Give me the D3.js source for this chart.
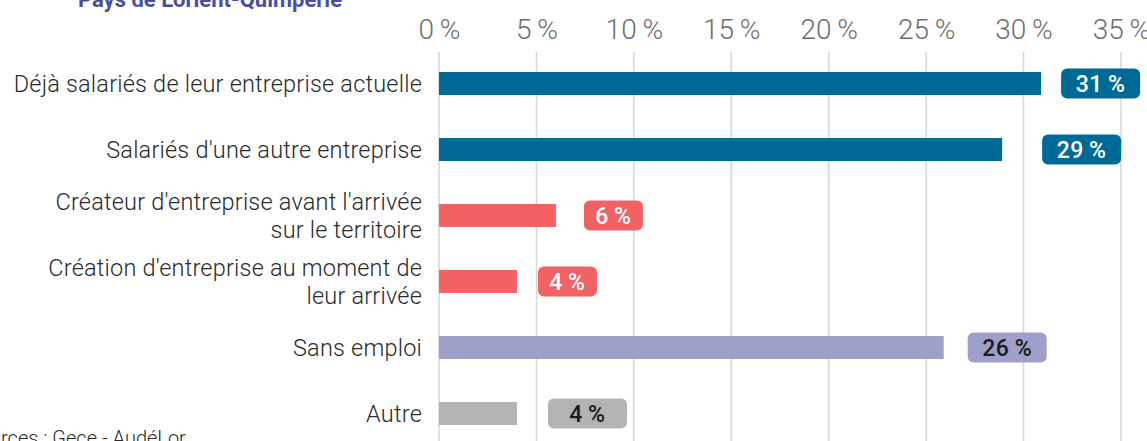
<!DOCTYPE html>
<html>
<head>
<meta charset="utf-8">
<script src="https://cdn.jsdelivr.net/npm/d3@7/dist/d3.min.js"></script>
<style>
  html, body { margin: 0; padding: 0; background: #fff; overflow: hidden; }
  svg { display: block; font-family: Roboto, "Open Sans", sans-serif; }
</style>
</head>
<body>
<div id="chart"></div>
<script>
// data
const categories = [
  "Déjà salariés de leur entreprise actuelle",
  "Salariés d'une autre entreprise",
  "Créateur d'entreprise avant l'arrivée|sur le territoire",
  "Création d'entreprise au moment de|leur arrivée",
  "Sans emploi",
  "Autre"
];
const values = [30.9, 28.9, 6.0, 4.0, 25.9, 4.0];
const labels = ["31\u2009%", "29\u2009%", "6\u2009%", "4\u2009%", "26\u2009%", "4\u2009%"];
const ticks = [0, 5, 10, 15, 20, 25, 30, 35];

// look
const barColors = ["#006a96", "#006a96", "#f26163", "#f26163", "#9fa0c9", "#b3b3b3"];
const textColors = ["#fff", "#fff", "#fff", "#fff", "#1a1a1a", "#1a1a1a"];
const pillGap = [20, 40, 28, 21, 24, 31];
const pillW = [79, 79, 59, 59, 79, 79];

const width = 1147, height = 441;

const svg = d3.select("#chart").append("svg")
  .attr("width", width)
  .attr("height", height);

const x = d3.scaleLinear().domain([0, 35]).range([439, 1121]);
const y = d3.scalePoint().domain(categories).range([83.5, 413.5]);
const barH = 23;

// title (cut by the top edge)
svg.append("text")
  .attr("x", 210).attr("y", 7)
  .attr("text-anchor", "middle")
  .attr("font-size", 22).attr("font-weight", 700)
  .attr("fill", "#4b4f9f")
  .text("Pays de Lorient-Quimperlé");

// grid lines
svg.append("g").selectAll("line")
  .data(ticks)
  .join("line")
  .attr("x1", d => x(d)).attr("x2", d => x(d))
  .attr("y1", 52).attr("y2", height)
  .attr("stroke", "#d6d6d6")
  .attr("stroke-width", 1.5);

// top axis labels
const axis = d3.axisTop(x).tickValues(ticks).tickSize(0).tickPadding(0)
  .tickFormat(d => d + "\u2009%");
svg.append("g")
  .attr("transform", "translate(0,39)")
  .call(axis)
  .call(g => g.select(".domain").remove())
  .call(g => g.selectAll("text")
    .attr("font-family", "Roboto, sans-serif")
    .attr("font-size", 28)
    .attr("font-weight", 300)
    .attr("fill", "#6e6e6e"));

// bars
svg.append("g").selectAll("rect")
  .data(categories)
  .join("rect")
  .attr("x", x(0))
  .attr("y", d => y(d) - barH / 2)
  .attr("width", (d, i) => x(values[i]) - x(0))
  .attr("height", barH)
  .attr("fill", (d, i) => barColors[i]);

// category labels
const cat = svg.append("g").selectAll("text")
  .data(categories)
  .join("text")
  .attr("text-anchor", "end")
  .attr("font-size", 23.5)
  .attr("font-weight", 300)
  .attr("letter-spacing", 0.2)
  .attr("fill", "#2b2b2b");
cat.each(function (d) {
  const lines = d.split("|");
  const t = d3.select(this);
  const lh = 28;
  const y0 = y(d) - (lines.length - 1) * lh / 2 + 8;
  lines.forEach((l, k) => {
    t.append("tspan").attr("x", 422).attr("y", y0 + k * lh).text(l);
  });
});

// value pills
const pill = svg.append("g").selectAll("g")
  .data(categories)
  .join("g")
  .attr("transform", (d, i) => `translate(${x(values[i]) + pillGap[i]},${y(d) - 15})`);
pill.append("rect")
  .attr("width", (d, i) => pillW[i])
  .attr("height", 30)
  .attr("rx", 6)
  .attr("fill", (d, i) => barColors[i]);
pill.append("text")
  .attr("x", (d, i) => pillW[i] / 2)
  .attr("y", 23)
  .attr("text-anchor", "middle")
  .attr("font-size", 23)
  .attr("font-weight", 500)
  .attr("letter-spacing", 0.5)
  .attr("fill", (d, i) => textColors[i])
  .text((d, i) => labels[i]);

// source (cut by the left edge)
svg.append("text")
  .attr("x", -33).attr("y", 445)
  .attr("font-size", 20)
  .attr("font-weight", 300)
  .attr("fill", "#2b2b2b")
  .text("Sources : Gece - AudéLor");
</script>
</body>
</html>
